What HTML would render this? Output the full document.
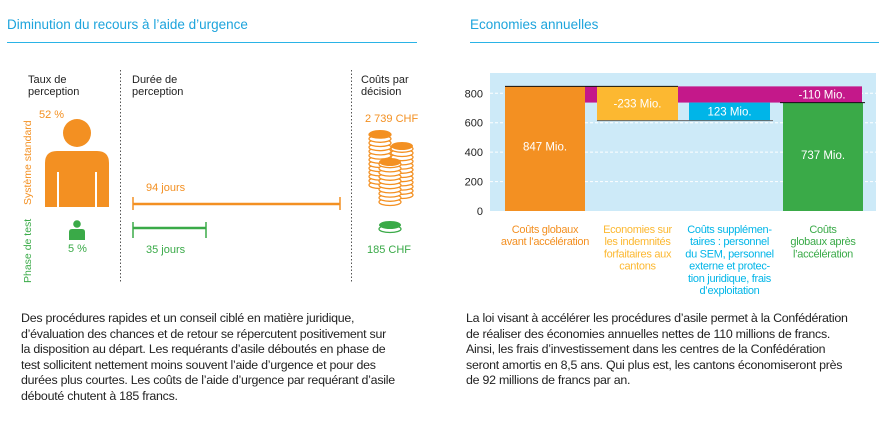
<!DOCTYPE html>
<html><head><meta charset="utf-8"><style>
body{margin:0;width:879px;height:429px;background:#fff;font-family:"Liberation Sans",sans-serif;overflow:hidden;position:relative}
.a{position:absolute;white-space:nowrap}
.para{font-size:12.4px;line-height:15.6px;color:#222;letter-spacing:-0.25px}
</style></head><body>
<svg width="879" height="429" style="position:absolute;left:0;top:0">
<g>
<text x="7" y="29" font-size="13.5" fill="#1ea4dc">Diminution du recours à l’aide d’urgence</text>
<line x1="7" y1="42.5" x2="417" y2="42.5" stroke="#2ab3e6" stroke-width="1"/>
<line x1="120.5" y1="70" x2="120.5" y2="283" stroke="#555" stroke-dasharray="1.5,2"/>
<line x1="351.5" y1="70" x2="351.5" y2="283" stroke="#555" stroke-dasharray="1.5,2"/>
<g font-size="11" fill="#222">
<text x="28" y="83">Taux de</text><text x="28" y="95">perception</text>
<text x="132" y="83">Durée de</text><text x="132" y="95">perception</text>
<text x="361" y="83">Coûts par</text><text x="361" y="95">décision</text>
</g>
<text transform="translate(31,205) rotate(-90)" font-size="10.5" fill="#f39022">Système standard</text>
<text transform="translate(31,283) rotate(-90)" font-size="10.5" fill="#3aaa48">Phase de test</text>
<text x="39" y="118" font-size="11" fill="#f39022">52 %</text>
<g fill="#f39022">
<circle cx="77" cy="133" r="14"/>
<path d="M45 207 V163 Q45 151 57 151 H97 Q109 151 109 163 V207 H97 V172 H95 V207 H59 V172 H57 V207 Z"/>
</g>
<g fill="#3aaa48">
<circle cx="77" cy="224" r="3.8"/>
<path d="M69 240 V232 Q69 229 72 229 H82 Q85 229 85 232 V240 Z"/>
</g>
<text x="68" y="252" font-size="11" fill="#3aaa48">5 %</text>
<text x="146" y="191" font-size="11" fill="#f39022">94 jours</text>
<g stroke="#f39022" stroke-width="2.5"><line x1="133" y1="204" x2="340" y2="204"/><line x1="133" y1="197" x2="133" y2="210" stroke-width="1.5"/><line x1="340" y1="197" x2="340" y2="210" stroke-width="1.5"/></g>
<g stroke="#3aaa48" stroke-width="2.5"><line x1="133" y1="228" x2="206" y2="228"/><line x1="133" y1="222" x2="133" y2="238" stroke-width="1.5"/><line x1="206" y1="222" x2="206" y2="238" stroke-width="1.5"/></g>
<text x="146" y="253" font-size="11" fill="#3aaa48">35 jours</text>
<text x="365" y="122" font-size="11" fill="#f39022">2 739 CHF</text>
<g id="coins"></g>
<g><ellipse cx="390" cy="229" rx="11" ry="3.5" fill="none" stroke="#3aaa48" stroke-width="1.3"/><ellipse cx="390" cy="225" rx="11" ry="4" fill="#3aaa48"/></g>
<text x="367" y="253" font-size="11" fill="#3aaa48">185 CHF</text>
</g>
<g>
<text x="470" y="29" font-size="13.5" fill="#1ea4dc">Economies annuelles</text>
<line x1="470" y1="42.5" x2="879" y2="42.5" stroke="#2ab3e6" stroke-width="1"/>
<rect x="490" y="73" width="386" height="138" fill="#cdeaf8"/>
<g id="chart"></g>
</g>
</svg>
<div class="a para" style="left:21px;top:311px">Des procédures rapides et un conseil ciblé en matière juridique,<br>d’évaluation des chances et de retour se répercutent positivement sur<br>la disposition au départ. Les requérants d’asile déboutés en phase de<br>test sollicitent nettement moins souvent l’aide d’urgence et pour des<br>durées plus courtes. Les coûts de l’aide d’urgence par requérant d’asile<br>débouté chutent à 185 francs.</div>
<div class="a para" style="left:466px;top:311px">La loi visant à accélérer les procédures d’asile permet à la Confédération<br>de réaliser des économies annuelles nettes de 110 millions de francs.<br>Ainsi, les frais d’investissement dans les centres de la Confédération<br>seront amortis en 8,5 ans. Qui plus est, les cantons économiseront près<br>de 92 millions de francs par an.</div>
<script>
const categories=[["Coûts globaux","avant l’accélération"],["Economies sur","les indemnités","forfaitaires aux","cantons"],["Coûts supplémen-","taires : personnel","du SEM, personnel","externe et protec-","tion juridique, frais","d’exploitation"],["Coûts","globaux après","l’accélération"]];
const stepValues=[847,-233,123,737];
const netChange=[-110];
const yTicks=[0,200,400,600,800];
const valueLabels=["847 Mio.","-233 Mio.","123 Mio.","737 Mio."];
const netLabel=["-110 Mio."];
const colors=["#f39022","#fcb831","#00b5e8","#3aaa48"];
const NS="http://www.w3.org/2000/svg";
const g=document.getElementById('chart');
function y(v){return 211-v*(117.7/800);}
function xL(i){return [505,597,689,783][i];}
const bw=[80,81,81,80];
function mk(t,a,p){const e=document.createElementNS(NS,t);for(const k in a)e.setAttribute(k,a[k]);p.appendChild(e);return e;}
yTicks.forEach(t=>{
 if(t>0){const l=mk('line',{x1:490,x2:876,y1:y(t),y2:y(t),stroke:'#fff','stroke-dasharray':'3,2','stroke-width':1},g);
 
 }
 const tx=mk('text',{x:483,y:y(t)+4,'font-size':11,fill:'#222','text-anchor':'end'},g);tx.textContent=t;
 
 
});
const start=stepValues[0],after1=start+stepValues[1],after2=after1+stepValues[2],end=stepValues[3];
const nb=mk('rect',{x:xL(0)+bw[0],y:y(start),width:xL(3)+bw[3]-1-(xL(0)+bw[0]),height:y(start+netChange[0])-y(start),fill:'#c4188a'},g);


const segs=[[0,start],[after1,start],[after1,after2],[0,end]];
segs.forEach((s,i)=>{
 const r=mk('rect',{x:xL(i),y:y(s[1]),width:bw[i],height:y(s[0])-y(s[1]),fill:colors[i]},g);
 
 
 const ty=i==0||i==3?(y(s[0])+y(s[1]))/2+2:(y(s[0])+y(s[1]))/2+4;
 const tx=mk('text',{x:xL(i)+bw[i]/2,y:ty,'font-size':11.5,fill:'#fff','text-anchor':'middle'},g);tx.textContent=valueLabels[i];
 
 
 categories[i].forEach((ln,j)=>{const c=mk('text',{x:xL(i)+bw[i]/2,y:233+j*12.2,'font-size':11,fill:colors[i],'text-anchor':'middle','letter-spacing':'-0.3'},g);c.textContent=ln;
 
 });
});
const nl=mk('text',{x:822,y:(y(start)+y(start+netChange[0]))/2+4,'font-size':11.5,fill:'#fff','text-anchor':'middle'},g);nl.textContent=netLabel[0];


[[xL(0),xL(1)+bw[1],y(start),'#111'],[xL(3)-3,xL(3)+bw[3]+2,y(end),'#111'],[xL(1),xL(2)+bw[2]+3,y(after1),'#666']].forEach(c=>{
 const l=mk('line',{x1:c[0],x2:c[1],y1:c[2],y2:c[2],stroke:c[3],'stroke-width':1},g);
 
 
});
const cg=document.getElementById('coins');
[[380,134,185],[402,146,195],[390,162,202]].forEach(s=>{
 for(let yy=s[2];yy>s[1];yy-=4.2){mk('ellipse',{cx:s[0],cy:yy,rx:11,ry:3.5,fill:'#fff',stroke:'#f39022','stroke-width':1.3},cg);}
 mk('ellipse',{cx:s[0],cy:s[1],rx:11,ry:4,fill:'#f39022'},cg);
});
</script>
</body></html>
